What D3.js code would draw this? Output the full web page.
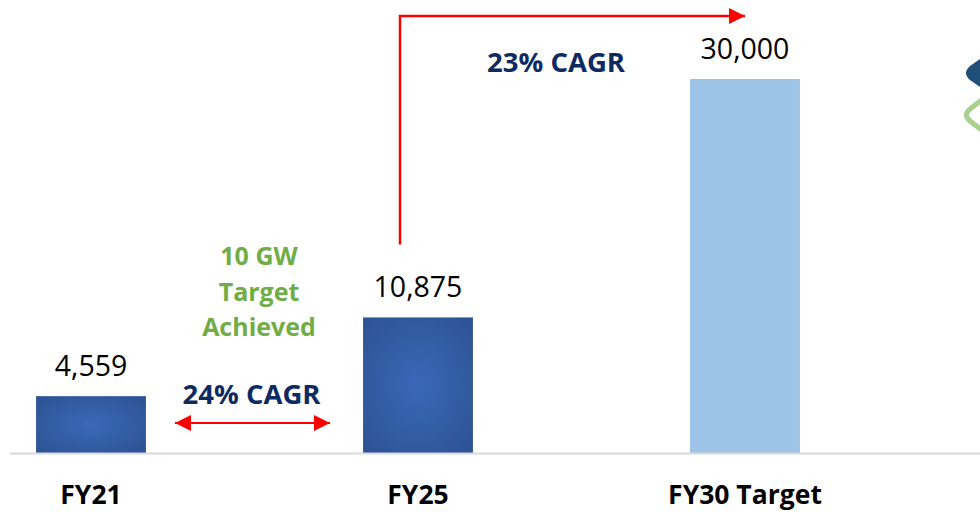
<!DOCTYPE html>
<html>
<head>
<meta charset="utf-8">
<script src="https://cdn.jsdelivr.net/npm/d3@7"></script>
<style>
  body { margin: 0; background: #fff; }
  svg { display: block; font-family: "Open Sans", sans-serif; }
</style>
</head>
<body>
<svg id="chart" width="980" height="513"></svg>
<script>
const categories = ["FY21", "FY25", "FY30 Target"];
const values = [4559, 10875, 30000];
const valueLabels = ["4,559", "10,875", "30,000"];
const barColors = ["url(#barGrad)", "url(#barGrad)", "#9dc3e6"];
const cagrShort = "24% CAGR";
const cagrLong = "23% CAGR";
const noteLines = ["10 GW", "Target", "Achieved"];

const svg = d3.select("#chart");
const W = 980, H = 513;

// bars sit on y=453, 30000 reaches y=79
const x = d3.scaleBand().domain(categories).range([-72.5, 908.5]).paddingInner(0.664).paddingOuter(0.332);
const y = d3.scaleLinear().domain([0, 30000]).range([453, 79]);

const defs = svg.append("defs");
const grad = defs.append("radialGradient").attr("id", "barGrad")
  .attr("cx", "50%").attr("cy", "50%").attr("r", "70%");
grad.append("stop").attr("offset", "0%").attr("stop-color", "#3a68b8");
grad.append("stop").attr("offset", "100%").attr("stop-color", "#2c5292");

defs.append("marker").attr("id", "head").attr("viewBox", "0 0 10 10")
  .attr("refX", 10).attr("refY", 5).attr("markerWidth", 16).attr("markerHeight", 16)
  .attr("markerUnits", "userSpaceOnUse").attr("orient", "auto-start-reverse")
  .append("path").attr("d", "M0,0 L10,5 L0,10 Z").attr("fill", "#ff0000");

// bars
svg.selectAll("rect.bar").data(values).enter().append("rect")
  .attr("class", "bar")
  .attr("x", (d, i) => x(categories[i]))
  .attr("y", d => y(d))
  .attr("width", x.bandwidth())
  .attr("height", d => y(0) - y(d))
  .attr("fill", (d, i) => barColors[i]);

// baseline
svg.append("line").attr("x1", 10).attr("x2", W).attr("y1", 453.5).attr("y2", 453.5)
  .attr("stroke", "#d9d9d9").attr("stroke-width", 2);

// value labels
svg.selectAll("text.val").data(values).enter().append("text")
  .attr("class", "val")
  .attr("x", (d, i) => x(categories[i]) + x.bandwidth() / 2)
  .attr("y", d => y(d) - 20)
  .attr("text-anchor", "middle")
  .attr("font-size", 28.5).attr("fill", "#000")
  .text((d, i) => valueLabels[i]);

// category labels
svg.selectAll("text.cat").data(categories).enter().append("text")
  .attr("class", "cat")
  .attr("x", d => x(d) + x.bandwidth() / 2)
  .attr("y", 504)
  .attr("text-anchor", "middle")
  .attr("font-size", 26.5).attr("font-weight", "bold").attr("fill", "#000")
  .text(d => d);

const cx = c => x(c) + x.bandwidth() / 2;

// double arrow FY21 -> FY25
svg.append("line")
  .attr("x1", cx(categories[0]) + 84).attr("x2", cx(categories[1]) - 88)
  .attr("y1", 423).attr("y2", 423)
  .attr("stroke", "#ff0000").attr("stroke-width", 2)
  .attr("marker-start", "url(#head)").attr("marker-end", "url(#head)");

svg.append("text")
  .attr("x", (cx(categories[0]) + cx(categories[1])) / 2 - 3)
  .attr("y", 404)
  .attr("text-anchor", "middle")
  .attr("font-size", 27.5).attr("font-weight", "bold").attr("fill", "#0e2a62")
  .text(cagrShort);

// green note
svg.selectAll("text.note").data(noteLines).enter().append("text")
  .attr("class", "note")
  .attr("x", 259)
  .attr("y", (d, i) => 265 + i * 35.5)
  .attr("text-anchor", "middle")
  .attr("font-size", 25).attr("font-weight", "bold").attr("fill", "#70ad47")
  .text(d => d);

// elbow arrow FY25 -> FY30
const elbowX = cx(categories[1]) - 18;
svg.append("path")
  .attr("d", `M${elbowX},${y(10875) - 73} L${elbowX},16 L${cx(categories[2])},16`)
  .attr("fill", "none").attr("stroke", "#ff0000").attr("stroke-width", 2.5)
  .attr("marker-end", "url(#head)");

svg.append("text")
  .attr("x", 556).attr("y", 72)
  .attr("text-anchor", "middle")
  .attr("font-size", 27.5).attr("font-weight", "bold").attr("fill", "#0e2a62")
  .text(cagrLong);

// partial logo at right edge
svg.append("path")
  .attr("d", "M990,52 L970,66 Q962,73 970,80 L990,94 Z")
  .attr("fill", "#1f4e79");
svg.append("path")
  .attr("d", "M992,92 L970,109 Q963,115 970,121 L992,138")
  .attr("fill", "none").attr("stroke", "#a9d18e").attr("stroke-width", 5)
  .attr("stroke-linejoin", "round");
</script>
</body>
</html>
